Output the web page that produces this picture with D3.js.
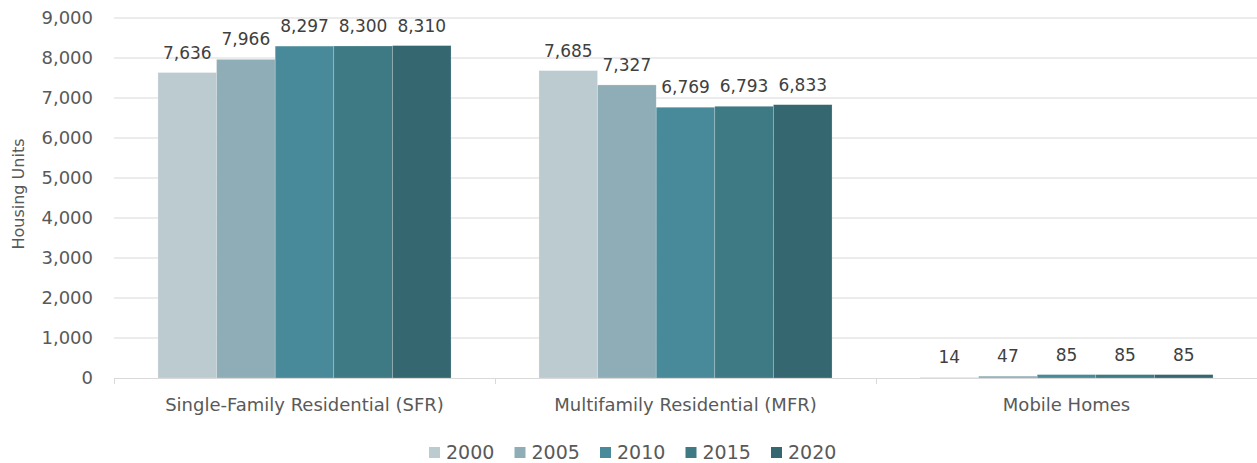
<!DOCTYPE html>
<html>
<head>
<meta charset="utf-8">
<script src="https://cdn.jsdelivr.net/npm/d3@7"></script>
<style>
  body { margin: 0; background: #fff; }
  svg text { font-family: "DejaVu Sans", sans-serif; fill: #595959; }
</style>
</head>
<body>
<svg id="chart" width="1257" height="463"></svg>
<script>
var categories = ["Single-Family Residential (SFR)", "Multifamily Residential (MFR)", "Mobile Homes"];
var years = ["2000", "2005", "2010", "2015", "2020"];
var values2000 = [7636, 7685, 14];
var values2005 = [7966, 7327, 47];
var values2010 = [8297, 6769, 85];
var values2015 = [8300, 6793, 85];
var values2020 = [8310, 6833, 85];
var yTicks = [0, 1000, 2000, 3000, 4000, 5000, 6000, 7000, 8000, 9000];
var colors = ["#bccbd0", "#8fadb6", "#488a9a", "#3e7a84", "#356770"];

var series = [values2000, values2005, values2010, values2015, values2020];

var margin = {left: 114, right: 0, top: 18, bottom: 85};
var width = 1257, height = 463;

var svg = d3.select("#chart");

var x0 = d3.scaleBand()
    .domain(categories)
    .range([margin.left, width - margin.right])
    .paddingInner(0)
    .paddingOuter(0);

var x1 = d3.scaleBand()
    .domain(years)
    .range([0, x0.bandwidth()])
    .paddingInner(0)
    .paddingOuter(0.75);

var y = d3.scaleLinear()
    .domain([0, 9000])
    .range([height - margin.bottom, margin.top]);

// gridlines
svg.append("g")
    .selectAll("line")
    .data(yTicks.slice(1))
    .enter()
    .append("line")
    .attr("x1", margin.left)
    .attr("x2", width - margin.right)
    .attr("y1", function(d) { return y(d); })
    .attr("y2", function(d) { return y(d); })
    .attr("stroke", "#d9d9d9")
    .attr("stroke-width", 1);

// y axis labels
var yAxis = d3.axisLeft(y)
    .tickValues(yTicks)
    .tickFormat(d3.format(","))
    .tickSize(0)
    .tickPadding(21);

var gy = svg.append("g")
    .attr("transform", "translate(" + margin.left + ",0)")
    .call(yAxis);
gy.select(".domain").remove();
gy.selectAll("text")
    .attr("font-size", 18)
    .attr("fill", "#595959");

// bars
var groups = svg.append("g")
    .selectAll("g")
    .data(series)
    .enter()
    .append("g")
    .attr("fill", function(d, i) { return colors[i]; });

groups.each(function(vals, si) {
    var g = d3.select(this);
    g.selectAll("rect")
        .data(vals)
        .enter()
        .append("rect")
        .attr("x", function(d, ci) { return x0(categories[ci]) + x1(years[si]); })
        .attr("width", x1.bandwidth())
        .attr("y", function(d) { return y(d); })
        .attr("height", function(d) { return y(0) - y(d); })
        .attr("stroke", "#ffffff")
        .attr("stroke-opacity", 0.35)
        .attr("stroke-width", 0.6);

    g.selectAll("text")
        .data(vals)
        .enter()
        .append("text")
        .attr("x", function(d, ci) { return x0(categories[ci]) + x1(years[si]) + x1.bandwidth() / 2; })
        .attr("y", function(d) { return y(d) - 14; })
        .attr("text-anchor", "middle")
        .attr("font-size", 17)
        .style("fill", "#404040")
        .text(function(d) { return d3.format(",")(d); });
});

// x axis
var xAxis = d3.axisBottom(x0).tickSize(0).tickPadding(20);
var gx = svg.append("g")
    .attr("transform", "translate(0," + y(0) + ")")
    .call(xAxis);
gx.select(".domain").attr("stroke", "#d9d9d9");
gx.selectAll("text").attr("font-size", 18).attr("fill", "#595959");

// category separator ticks
svg.append("g")
    .selectAll("line")
    .data(categories)
    .enter()
    .append("line")
    .attr("x1", function(d) { return x0(d) + 0.5; })
    .attr("x2", function(d) { return x0(d) + 0.5; })
    .attr("y1", y(0))
    .attr("y2", y(0) + 6)
    .attr("stroke", "#d9d9d9");

// axis title
svg.append("text")
    .attr("transform", "translate(24,194) rotate(-90)")
    .attr("text-anchor", "middle")
    .attr("font-size", 16)
    .text("Housing Units");

// legend
var legend = svg.append("g")
    .selectAll("g")
    .data(years)
    .enter()
    .append("g")
    .attr("transform", function(d, i) { return "translate(" + (429 + i * 85.5) + ",452)"; });

legend.append("rect")
    .attr("x", 0)
    .attr("y", -5)
    .attr("width", 11)
    .attr("height", 11)
    .attr("fill", function(d, i) { return colors[i]; });

legend.append("text")
    .attr("x", 17)
    .attr("y", 7)
    .attr("font-size", 19)
    .text(function(d) { return d; });
</script>
</body>
</html>
